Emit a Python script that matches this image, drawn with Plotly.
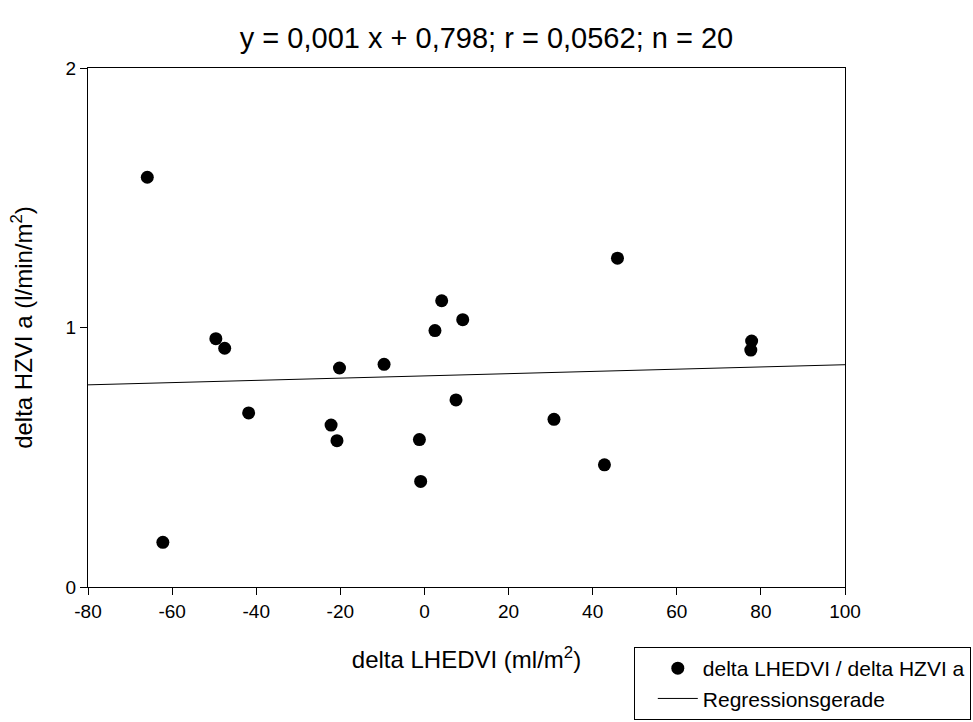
import numpy as np
import plotly.graph_objects as go

# data
delta_lhedvi = [-65.9, -62.2, -49.6, -47.5, -41.8, -22.2, -20.8, -20.2, -9.6, -1.2,
                -0.9, 2.5, 4.1, 9.1, 7.5, 30.8, 42.8, 45.9, 77.8, 77.6]
delta_hzvi = [1.579, 0.172, 0.957, 0.920, 0.671, 0.624, 0.564, 0.844, 0.858, 0.568,
              0.407, 0.988, 1.103, 1.030, 0.721, 0.646, 0.471, 1.267, 0.948, 0.913]
x_range = [-80, 100]
x_ticks = [-80, -60, -40, -20, 0, 20, 40, 60, 80, 100]
x_tick_labels = ["-80", "-60", "-40", "-20", "0", "20", "40", "60", "80", "100"]
y_ticks = [0, 1, 2]
title_text = "y = 0,001 x + 0,798; r = 0,0562; n = 20"

slope, intercept = np.polyfit(delta_lhedvi, delta_hzvi, 1)
line_x = np.array(x_range, dtype=float)
line_y = slope * line_x + intercept

FONT = "Liberation Sans, Arial, sans-serif"

fig = go.Figure()
fig.add_trace(go.Scatter(
    x=delta_lhedvi, y=delta_hzvi, mode="markers",
    name="delta LHEDVI / delta HZVI a",
    marker=dict(color="black", size=13, line=dict(width=0)),
))
fig.add_trace(go.Scatter(
    x=line_x, y=line_y, mode="lines", name="Regressionsgerade",
    line=dict(color="black", width=1),
))

axis_common = dict(
    showgrid=False, zeroline=False, showline=True, linecolor="black", linewidth=1,
    mirror=True, ticks="outside", ticklen=7, tickwidth=1, tickcolor="black",
    tickfont=dict(size=19, color="black", family=FONT),
)
fig.update_xaxes(range=x_range, tickvals=x_ticks, ticktext=x_tick_labels, **axis_common,
                 title=dict(text="delta LHEDVI (ml/m<sup>2</sup>)",
                            font=dict(size=24, color="black", family=FONT), standoff=30))
fig.update_yaxes(range=[0, 2], tickvals=y_ticks, **axis_common,
                 title=dict(text="delta HZVI a (l/min/m<sup>2</sup>)",
                            font=dict(size=24, color="black", family=FONT), standoff=26))

fig.update_layout(
    width=973, height=722,
    margin=dict(l=88, r=128, t=68, b=135, autoexpand=False),
    paper_bgcolor="white", plot_bgcolor="white",
    font=dict(family=FONT, color="black"),
    title=dict(text=title_text, x=0.5, xanchor="center", y=1 - 38 / 722, yanchor="middle",
               font=dict(size=29, color="black", family=FONT)),
    showlegend=True,
    legend=dict(x=0.721, xanchor="left", y=-0.1156, yanchor="top",
                bordercolor="black", borderwidth=1, bgcolor="white",
                itemwidth=40, indentation=18, tracegroupgap=0,
                font=dict(size=21, color="black", family=FONT)),
)

fig.write_html("out.html")
